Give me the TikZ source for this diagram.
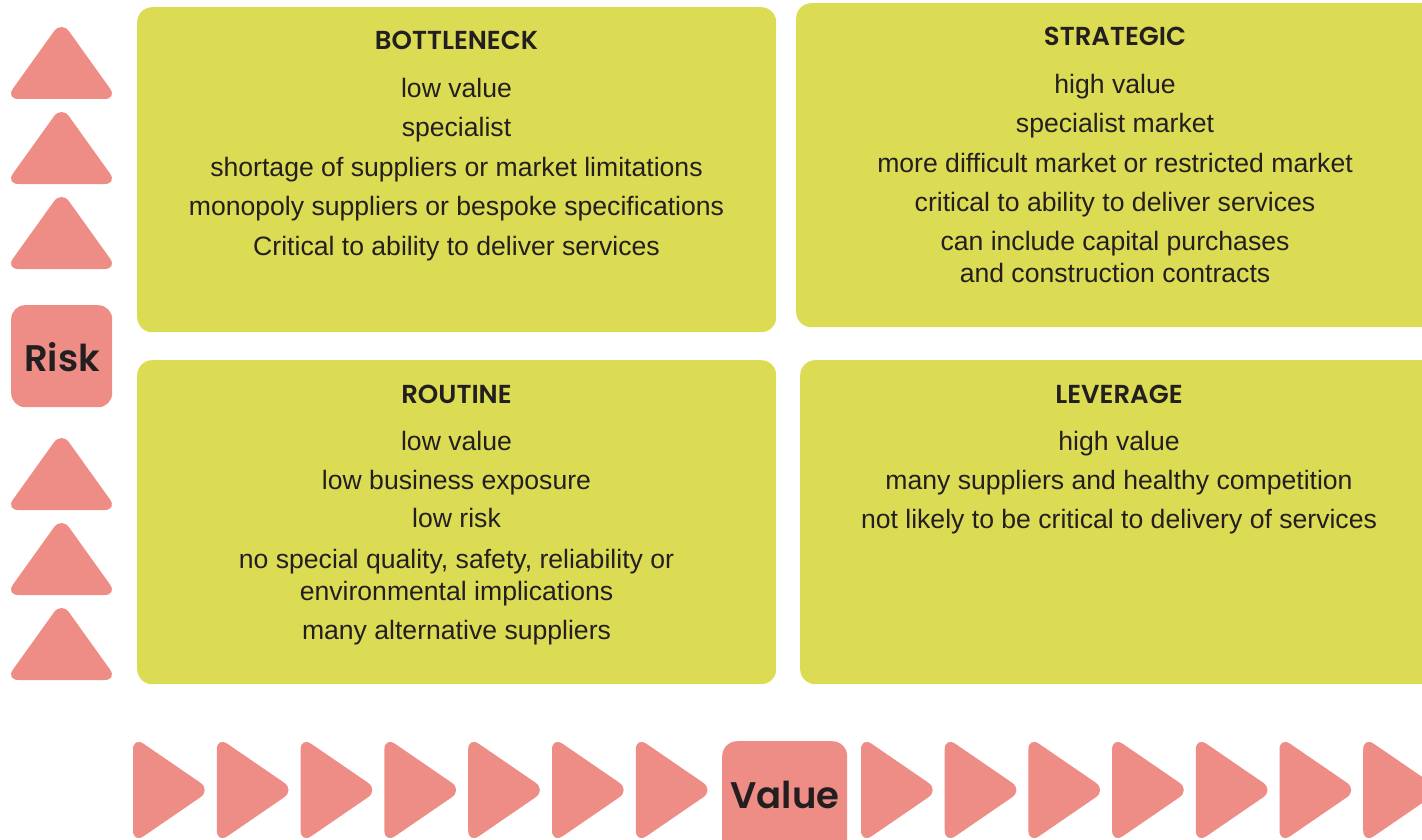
\documentclass[tikz,border=0pt]{standalone}
\usepackage{fontspec}
\setmainfont{Liberation Sans}
\newfontfamily\popp{Poppins SemiBold}
\definecolor{pinkc}{HTML}{EE8C86}
\definecolor{yelc}{HTML}{DCDC54}
\definecolor{inkc}{HTML}{231F20}
\begin{document}
\begin{tikzpicture}[x=1pt,y=-1pt,
  quad/.style={fill=yelc, draw=none, rounded corners=15pt, inner sep=0pt, anchor=north west},
  pinkbox/.style={fill=pinkc, draw=none, rounded corners=14pt, inner sep=0pt, anchor=north west},
  body/.style={font=\fontsize{26.6}{32}\selectfont, text=inkc, inner sep=0pt, anchor=base},
  head/.style={font=\popp\fontsize{26}{30}\selectfont, text=inkc, inner sep=0pt, anchor=base},
  big/.style={font=\popp\fontsize{37}{44}\selectfont, text=inkc, inner sep=0pt, anchor=base},
  tri/.style={fill=pinkc, draw=none, rounded corners=13pt}]
\useasboundingbox (0,0) rectangle (1422,840);
\clip (0,0) rectangle (1422,840);

% quadrant boxes
\node[quad, minimum width=639pt, minimum height=325pt] (bott) at (137,7) {};
\node[quad, minimum width=640pt, minimum height=324pt] (strat) at (796,3) {};
\node[quad, minimum width=639pt, minimum height=324pt] (rout) at (137,360) {};
\node[quad, minimum width=640pt, minimum height=324pt] (lev) at (800,360) {};

% Bottleneck
\node[head] (bh) at (456.5,49.3) {BOTTLENECK};
\node[body] (b1) at (456.5,97.3) {low value};
\node[body] (b2) at (456.5,136.8) {specialist};
\node[body] (b3) at (456.5,176.3) {shortage of suppliers or market limitations};
\node[body] (b4) at (456.5,215.8) {monopoly suppliers or bespoke specifications};
\node[body] (b5) at (456.5,255.3) {Critical to ability to deliver services};

% Strategic
\node[head] (sh) at (1115,46) {STRATEGIC};
\node[body] (s1) at (1115,94) {high value};
\node[body] (s2) at (1115,132.7) {specialist market};
\node[body] (s3) at (1115,172.7) {more difficult market or restricted market};
\node[body] (s4) at (1115,211.3) {critical to ability to deliver services};
\node[body] (s5) at (1115,250.7) {can include capital purchases};
\node[body] (s6) at (1115,282.7) {and construction contracts};

% Routine
\node[head] (rh) at (456.5,403.3) {ROUTINE};
\node[body] (r1) at (456.5,450) {low value};
\node[body] (r2) at (456.5,489.3) {low business exposure};
\node[body] (r3) at (456.5,527.7) {low risk};
\node[body] (r4) at (456.5,568.3) {no special quality, safety, reliability or};
\node[body] (r5) at (456.5,600.7) {environmental implications};
\node[body] (r6) at (456.5,639.3) {many alternative suppliers};

% Leverage
\node[head] (lh) at (1119,403.3) {LEVERAGE};
\node[body] (l1) at (1119,450) {high value};
\node[body] (l2) at (1119,489.3) {many suppliers and healthy competition};
\node[body] (l3) at (1119,528) {not likely to be critical to delivery of services};

% Risk axis
\foreach \dy in {0,85,170,411,496,581}{
  \fill[tri] (61.5,99+\dy) -- (117.5,99+\dy) -- (61.5,20.8+\dy) -- (5.5,99+\dy) -- cycle;
}
\node[pinkbox, minimum width=101pt, minimum height=102pt] (riskbox) at (11,305) {};
\node[big] (risk) at (62,371.7) {Risk};

% Value axis
\foreach \x in {133,216.8,300.6,384.4,468.2,552,635.8,861,944.7,1028.4,1112.1,1195.8,1279.5,1363.2}{
  \fill[tri] (\x,790) -- (\x,736.5) -- (\x+78,790) -- (\x,843.5) -- cycle;
}
\node[pinkbox, minimum width=125pt, minimum height=130pt, rounded corners=15pt] (valuebox) at (722,741) {};
\node[big] (value) at (785,808) {Value};
\end{tikzpicture}
\end{document}
